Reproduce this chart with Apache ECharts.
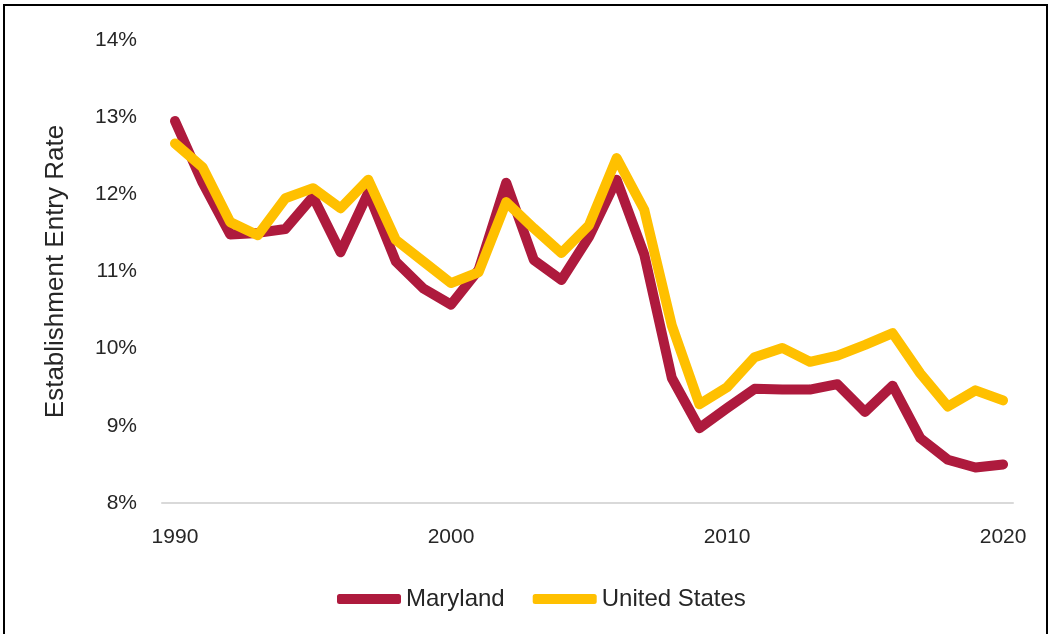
<!DOCTYPE html>
<html>
<head>
<meta charset="utf-8">
<script src="https://cdn.jsdelivr.net/npm/echarts@6/dist/echarts.min.js"></script>
<style>
  html, body { margin: 0; padding: 0; background: #fff; }
  #chart { width: 1050px; height: 634px; }
</style>
</head>
<body>
<div id="chart"></div>
<script>
// years and rates (%)
var years = [1990, 1991, 1992, 1993, 1994, 1995, 1996, 1997, 1998, 1999,
             2000, 2001, 2002, 2003, 2004, 2005, 2006, 2007, 2008, 2009,
             2010, 2011, 2012, 2013, 2014, 2015, 2016, 2017, 2018, 2019, 2020];
var maryland = [12.95, 12.15, 11.48, 11.5, 11.55, 11.97, 11.25, 12.02, 11.13, 10.78,
                10.57, 11.02, 12.15, 11.15, 10.89, 11.45, 12.19, 11.22, 9.62, 8.97,
                9.23, 9.48, 9.47, 9.47, 9.54, 9.18, 9.52, 8.84, 8.56, 8.46, 8.5];
var unitedStates = [12.66, 12.35, 11.64, 11.47, 11.95, 12.08, 11.82, 12.19, 11.41, 11.13,
                    10.85, 10.99, 11.9, 11.56, 11.24, 11.6, 12.47, 11.8, 10.3, 9.28,
                    9.5, 9.89, 10.01, 9.83, 9.91, 10.05, 10.2, 9.68, 9.25, 9.46, 9.33];
var xTicks = [1990, 2000, 2010, 2020];

var txt = '#262626';
var font = 'Liberation Sans';

function pairs(vals) {
    return years.map(function (y, i) { return [y, vals[i]]; });
}

var chart = echarts.init(document.getElementById('chart'));
chart.setOption({
    animation: false,
    textStyle: { fontFamily: font },
    grid: { left: 162, right: 37, top: 40, bottom: 131 },
    legend: {
        top: 582,
        left: 332,
        itemWidth: 64,
        itemHeight: 10,
        itemGap: 28,
        icon: 'roundRect',
        textStyle: { fontSize: 24, color: txt, fontFamily: font },
        data: ['Maryland', 'United States']
    },
    xAxis: {
        type: 'value',
        min: 1989.53,
        max: 2020.36,
        axisLine: { show: true, lineStyle: { color: '#d9d9d9', width: 2 } },
        axisTick: { show: false },
        splitLine: { show: false },
        axisLabel: {
            customValues: xTicks,
            formatter: function (v) { return String(v); },
            margin: 24,
            fontSize: 21,
            color: txt,
            fontFamily: font
        }
    },
    yAxis: {
        type: 'value',
        min: 8,
        max: 14,
        interval: 1,
        name: 'Establishment Entry Rate',
        nameLocation: 'middle',
        nameGap: 93,
        nameTextStyle: { fontSize: 26, color: txt, fontFamily: font },
        axisLine: { show: false },
        axisTick: { show: false },
        splitLine: { show: false },
        axisLabel: {
            formatter: '{value}%',
            margin: 25,
            fontSize: 21,
            color: txt,
            fontFamily: font
        }
    },
    series: [
        {
            name: 'Maryland',
            type: 'line',
            data: pairs(maryland),
            showSymbol: false,
            color: '#AE1A3D',
            lineStyle: { width: 10, cap: 'round', join: 'round' },
            z: 2
        },
        {
            name: 'United States',
            type: 'line',
            data: pairs(unitedStates),
            showSymbol: false,
            color: '#FFC000',
            lineStyle: { width: 10, cap: 'round', join: 'round' },
            z: 3
        }
    ],
    graphic: [
        {
            type: 'rect',
            shape: { x: 4, y: 5, width: 1043, height: 700 },
            style: { fill: null, stroke: '#000', lineWidth: 2 },
            silent: true
        }
    ]
});
</script>
</body>
</html>
